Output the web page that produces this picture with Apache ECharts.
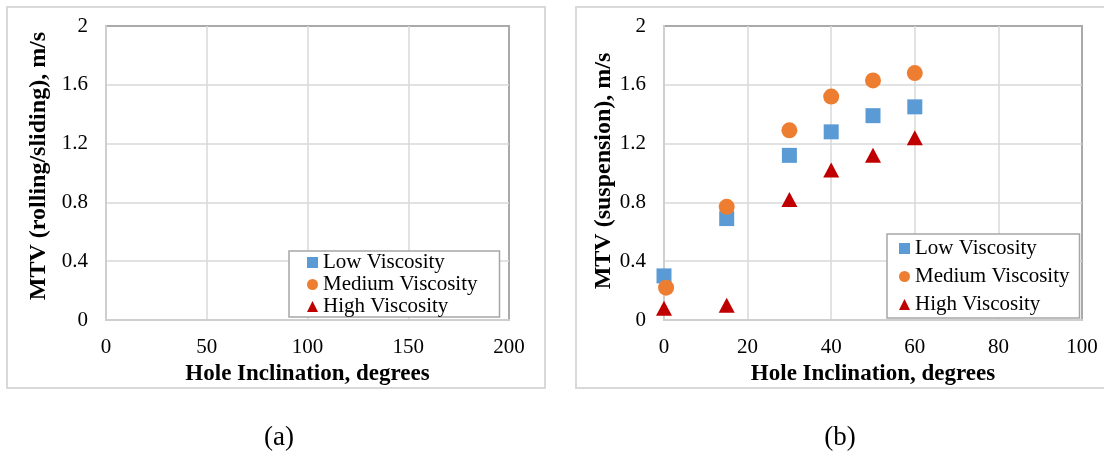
<!DOCTYPE html>
<html>
<head>
<meta charset="utf-8">
<script src="https://cdn.jsdelivr.net/npm/echarts@6/dist/echarts.min.js"></script>
<style>
  html, body { margin: 0; padding: 0; background: #fff; }
  #chart { width: 1104px; height: 454px; }
</style>
</head>
<body>
<div id="chart"></div>
<script>
// Hole inclination (degrees) for the suspension measurements
const inclinationLow = [0, 15, 30, 40, 50, 60];
const inclinationMedium = [0.5, 15, 30, 40, 50, 60];
const inclinationHigh = [0, 15, 30, 40, 50, 60];

// Minimum transport velocity in suspension, m/s
const mtvSuspensionLow = [0.30, 0.69, 1.12, 1.28, 1.39, 1.45];
const mtvSuspensionMedium = [0.22, 0.77, 1.29, 1.52, 1.63, 1.68];
const mtvSuspensionHigh = [0.08, 0.10, 0.82, 1.02, 1.12, 1.24];

// Rolling/sliding panel carries no measured points
const mtvRollingLow = [];
const mtvRollingMedium = [];
const mtvRollingHigh = [];

const seriesNames = ['Low Viscosity', 'Medium Viscosity', 'High Viscosity'];
const panelCaptions = ['(a)', '(b)'];
const xTitle = 'Hole Inclination, degrees';
const yTitles = ['MTV (rolling/sliding), m/s', 'MTV (suspension), m/s'];

const SERIF = "'Liberation Serif', 'Times New Roman', serif";
const colors = ['#5b9bd5', '#ed7d31', '#c00000'];
const symbols = ['rect', 'circle', 'triangle'];
const symbolSizes = [15, 16, [16, 15]];

const zip = (xs, ys) => ys.map((y, i) => [xs[i], y]);

function xAxisFor(gridIndex, max, interval) {
  return {
    type: 'value', gridIndex, min: 0, max, interval,
    axisLine: { show: true, lineStyle: { color: '#cfcfcf', width: 2 } },
    axisTick: { show: false },
    axisLabel: { fontFamily: SERIF, fontSize: 21, color: '#000', margin: 17 },
    splitLine: { show: true, showMinLine: false, showMaxLine: false,
      lineStyle: { color: '#d9d9d9', width: 1.5 } },
    name: xTitle, nameLocation: 'middle', nameGap: 42,
    nameTextStyle: { fontFamily: SERIF, fontSize: 23, fontWeight: 'bold', color: '#000' }
  };
}

function yAxisFor(gridIndex, title, nameGap, shift) {
  return {
    type: 'value', gridIndex, min: 0, max: 2, interval: 0.4,
    axisLine: { show: true, lineStyle: { color: '#cfcfcf', width: 2 } },
    axisTick: { show: false },
    axisLabel: { fontFamily: SERIF, fontSize: 21, color: '#000', margin: 18 },
    splitLine: { show: true, showMinLine: false, showMaxLine: false,
      lineStyle: { color: '#d9d9d9', width: 1.5 } },
    name: title, nameLocation: 'middle', nameGap,
    nameTextStyle: { fontFamily: SERIF, fontSize: 24, fontWeight: 'bold', color: '#000',
      padding: [0, 0, 0, shift] }
  };
}

function scatter(name, idx, axisIndex, data) {
  return {
    type: 'scatter', name,
    xAxisIndex: axisIndex, yAxisIndex: axisIndex,
    symbol: symbols[idx], symbolSize: symbolSizes[idx],
    itemStyle: { color: colors[idx], opacity: 1 },
    data
  };
}

function legendFor(pos, padding, itemGap) {
  return Object.assign({
    orient: 'vertical',
    data: seriesNames.map((n, i) => ({ name: n, icon: symbols[i] })),
    itemWidth: 11, itemHeight: 11, itemGap,
    padding,
    backgroundColor: '#fff',
    borderColor: '#a6a6a6', borderWidth: 1.5,
    selectedMode: false,
    textStyle: { fontFamily: SERIF, fontSize: 21, color: '#000', lineHeight: 20 }
  }, pos);
}

const chart = echarts.init(document.getElementById('chart'), null, { renderer: 'canvas' });

chart.setOption({
  animation: false,
  backgroundColor: '#fff',
  grid: [
    { left: 106, top: 26, width: 403, height: 294, show: true,
      borderColor: '#aaaaaa', borderWidth: 2, backgroundColor: 'transparent' },
    { left: 664, top: 26, width: 418, height: 294, show: true,
      borderColor: '#aaaaaa', borderWidth: 2, backgroundColor: 'transparent' }
  ],
  xAxis: [xAxisFor(0, 200, 50), xAxisFor(1, 100, 20)],
  yAxis: [yAxisFor(0, yTitles[0], 55, 14), yAxisFor(1, yTitles[1], 42, 4)],
  legend: [
    legendFor({ left: 289, top: 251 }, [1, 22, 0, 18], 1),
    legendFor({ left: 887, top: 234 }, [4, 10, 3, 12], 7)
  ],
  series: [
    scatter(seriesNames[0], 0, 0, zip([], mtvRollingLow)),
    scatter(seriesNames[1], 1, 0, zip([], mtvRollingMedium)),
    scatter(seriesNames[2], 2, 0, zip([], mtvRollingHigh)),
    scatter(seriesNames[0], 0, 1, zip(inclinationLow, mtvSuspensionLow)),
    scatter(seriesNames[1], 1, 1, zip(inclinationMedium, mtvSuspensionMedium)),
    scatter(seriesNames[2], 2, 1, zip(inclinationHigh, mtvSuspensionHigh))
  ],
  graphic: [
    { type: 'rect', z: -10, shape: { x: 7, y: 7, width: 538, height: 381 },
      style: { fill: 'none', stroke: '#d9d9d9', lineWidth: 2 } },
    { type: 'rect', z: -10, shape: { x: 576, y: 7, width: 540, height: 381 },
      style: { fill: 'none', stroke: '#d9d9d9', lineWidth: 2 } },
    { type: 'text', x: 279, y: 438,
      style: { text: panelCaptions[0], font: '27px ' + SERIF, fill: '#000',
        align: 'center', verticalAlign: 'middle' } },
    { type: 'text', x: 840, y: 438,
      style: { text: panelCaptions[1], font: '27px ' + SERIF, fill: '#000',
        align: 'center', verticalAlign: 'middle' } }
  ]
});
</script>
</body>
</html>
